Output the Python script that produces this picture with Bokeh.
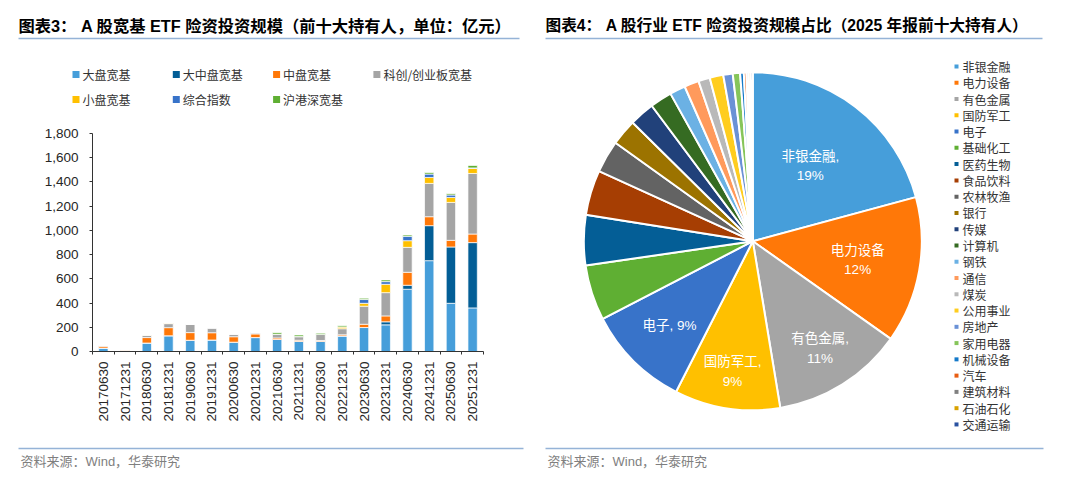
import math
import numpy as np
from bokeh.plotting import figure
from bokeh.layouts import row, column
from bokeh.models import Range1d, FixedTicker, NumeralTickFormatter, ColumnDataSource
from bokeh.core.properties import value
from bokeh.embed import file_html
from bokeh.resources import INLINE

# ---------------- data: left chart (亿元) ----------------
periods = ["20170630", "20171231", "20180630", "20181231", "20190630", "20191231",
           "20200630", "20201231", "20210630", "20211231", "20220630", "20221231",
           "20230630", "20231231", "20240630", "20241231", "20250630", "20251231"]
series_names = ["大盘宽基", "大中盘宽基", "中盘宽基", "科创/创业板宽基", "小盘宽基", "综合指数", "沪港深宽基"]
large_cap = [28, 10, 70, 130, 93, 95, 77, 115, 100, 83, 83, 128, 198, 220, 514, 750, 398, 360]
large_mid_cap = [0, 0, 0, 0, 0, 0, 0, 0, 0, 0, 0, 0, 0, 25, 33, 289, 465, 539]
mid_cap = [15, 4, 45, 67, 63, 60, 45, 30, 12, 10, 8, 10, 27, 49, 107, 74, 55, 71]
star_chinext = [6, 4, 20, 33, 70, 40, 22, 10, 30, 30, 50, 50, 149, 192, 206, 275, 313, 500]
small_cap = [0, 0, 2, 6, 0, 0, 0, 0, 0, 0, 0, 15, 24, 69, 55, 49, 41, 41]
composite = [0, 0, 0, 0, 0, 0, 0, 0, 0, 0, 0, 0, 31, 22, 36, 28, 20, 5]
sh_hk_sz = [0, 0, 0, 0, 0, 0, 0, 0, 13, 13, 10, 10, 11, 14, 11, 13, 11, 20]
series_colors = ["#469EDA", "#035E96", "#FF7808", "#A5A5A5", "#FFC000", "#3873C9", "#5FAF33"]
y_ticks = [0, 200, 400, 600, 800, 1000, 1200, 1400, 1600, 1800]

# ---------------- data: right chart (share, %) ----------------
sectors = ["非银金融", "电力设备", "有色金属", "国防军工", "电子", "基础化工", "医药生物", "食品饮料",
           "农林牧渔", "银行", "传媒", "计算机", "钢铁", "通信", "煤炭", "公用事业", "房地产",
           "家用电器", "机械设备", "汽车", "建筑材料", "石油石化", "交通运输"]
shares = [20.8, 14.0, 12.6, 10.1, 9.9, 5.3, 4.8, 4.3, 3.1, 2.5, 2.4, 2.1, 1.5, 1.4, 1.1, 1.3,
          0.9, 0.7, 0.35, 0.25, 0.2, 0.2, 0.2]
sector_colors = ["#469EDA", "#FF7808", "#A5A5A5", "#FFC000", "#3873C9", "#5FAF33", "#045E96",
                 "#A63E03", "#636363", "#9C7300", "#21417A", "#356B22", "#6BB1E4", "#FF9A5C",
                 "#B9B9B9", "#FFCD1F", "#6A91D6", "#86C55A", "#1479C9", "#E85D12", "#808080",
                 "#D9A200", "#2A52A0"]
pie_labels = ["非银金融,\n19%", "电力设备\n12%", "有色金属,\n11%", "国防军工,\n9%", "电子, 9%"]

title_left = "图表3：  A 股宽基 ETF 险资投资规模（前十大持有人，单位：亿元）"
title_right = "图表4：  A 股行业 ETF 险资投资规模占比（2025 年报前十大持有人）"
source_note = "资料来源：Wind，华泰研究"

# ---------------- styling ----------------
CJK = "Noto Sans CJK SC"
MIX = "Liberation Sans, Noto Sans CJK SC"
LINE_BLUE = "#95B3D7"
AXIS_COL = "#333333"
TXT = "#262626"
H = 481


def blank(w, h, x0, ytop):
    f = figure(width=w, height=h, x_range=Range1d(x0, x0 + w), y_range=Range1d(H - ytop - h, H - ytop),
               output_backend="svg", toolbar_location=None, tools="",
               x_axis_type=None, y_axis_type=None, min_border=0, frame_align=False)
    f.grid.visible = False
    f.outline_line_color = None
    f.background_fill_color = "white"
    f.border_fill_color = "white"
    return f


def header(f, x0, x1, text, size):
    f.text(x=[x0], y=[H - 25], text=[text], text_font=value(MIX), text_font_size=size,
           text_font_style="bold", text_color="#000000", text_baseline="middle", text_align="left")
    f.segment(x0=[x0], y0=[H - 38], x1=[x1], y1=[H - 38], line_color=LINE_BLUE, line_width=1.5)


def footer(f, x0, x1):
    f.segment(x0=[x0], y0=[H - 448], x1=[x1], y1=[H - 448], line_color=LINE_BLUE, line_width=1.5)
    f.text(x=[x0 + 2], y=[H - 461], text=[source_note], text_font=value(MIX), text_font_size="13px",
           text_color="#7F7F7F", text_baseline="middle", text_align="left")


# ---------------- left column ----------------
top_l = blank(540, 115, 0, 0)
header(top_l, 18, 519, title_left, "16.3px")
leg_x = [72 + 100.3 * (i % 4) for i in range(len(series_names))]
leg_y = [H - (74 + 25 * (i // 4)) for i in range(len(series_names))]
top_l.rect(x=[x + 3.5 for x in leg_x], y=leg_y, width=7, height=7, fill_color=series_colors, line_color=None)
top_l.text(x=[x + 10 for x in leg_x], y=leg_y, text=series_names, text_font=value(CJK),
           text_font_size="12px", text_color="#333333", text_baseline="middle", text_align="left")

bar = figure(width=540, height=320, x_range=Range1d(-0.5, len(periods) - 0.5), y_range=Range1d(0, 1800),
             output_backend="svg", toolbar_location=None, tools="", frame_align=False,
             min_border_left=92, min_border_right=57, min_border_top=18, min_border_bottom=84)
bar.grid.visible = False
bar.outline_line_color = None
src = ColumnDataSource(dict(x=list(range(len(periods))),
                            **{series_names[0]: large_cap, series_names[1]: large_mid_cap,
                               series_names[2]: mid_cap, series_names[3]: star_chinext,
                               series_names[4]: small_cap, series_names[5]: composite,
                               series_names[6]: sh_hk_sz}))
bar.vbar_stack(series_names, x="x", width=0.43, fill_color=series_colors, line_color="white",
               line_width=0.7, source=src)

xa = bar.xaxis[0]
xa.ticker = FixedTicker(ticks=list(range(len(periods))), minor_ticks=[i - 0.5 for i in range(len(periods) + 1)])
xa.major_label_overrides = {i: p for i, p in enumerate(periods)}
xa.major_label_orientation = math.pi / 2
xa.major_tick_line_color = None
xa.major_tick_out = 3
xa.major_tick_in = 0
xa.minor_tick_out = 3
xa.minor_tick_in = 0
xa.minor_tick_line_color = AXIS_COL
xa.axis_line_color = AXIS_COL
xa.major_label_standoff = 7
xa.major_label_text_font = MIX
xa.major_label_text_font_size = "13.5px"
xa.major_label_text_color = TXT

ya = bar.yaxis[0]
ya.ticker = FixedTicker(ticks=y_ticks)
ya.formatter = NumeralTickFormatter(format="0,0")
ya.major_tick_out = 3
ya.major_tick_in = 0
ya.minor_tick_line_color = None
ya.major_tick_line_color = AXIS_COL
ya.axis_line_color = AXIS_COL
ya.major_label_standoff = 11
ya.major_label_text_font = MIX
ya.major_label_text_font_size = "13.5px"
ya.major_label_text_color = TXT

foot_l = blank(540, 46, 0, 435)
footer(foot_l, 18, 523)

# ---------------- right column ----------------
top_r = blank(540, 45, 540, 0)
header(top_r, 545, 1042, title_right, "15.7px")

pie = blank(540, 390, 540, 45)
cx, cy, R = 752.3, H - 240.7, 169
frac = np.array(shares, dtype=float) / float(np.sum(shares))
cum = np.cumsum(frac)
start = math.pi / 2 - 2 * math.pi * (cum - frac)
end = math.pi / 2 - 2 * math.pi * cum
psrc = ColumnDataSource(dict(start=start, end=end, color=sector_colors, name=sectors))
pie.wedge(x=cx, y=cy, radius=R, start_angle="start", end_angle="end", direction="clock",
          fill_color="color", line_color="white", line_width=2, source=psrc)

label_r = [0.56, 0.63, 0.75, 0.78, 0.70]
mid = (start[:5] + end[:5]) / 2
lx = [cx + R * r * math.cos(a) for r, a in zip(label_r, mid)]
ly = [cy + R * r * math.sin(a) for r, a in zip(label_r, mid)]
pie.text(x=lx, y=ly, text=pie_labels, text_font=value(MIX), text_font_size="13.5px",
         text_color="white", text_align="center", text_baseline="middle", text_line_height=1.3)

lgx = 956
lgy = [H - (66 + 16.27 * i) for i in range(len(sectors))]
pie.rect(x=[lgx] * len(sectors), y=lgy, width=4, height=4, fill_color=sector_colors, line_color=None)
pie.text(x=[lgx + 6] * len(sectors), y=lgy, text=sectors, text_font=value(CJK), text_font_size="12px",
         text_color="#333333", text_align="left", text_baseline="middle")

foot_r = blank(540, 46, 540, 435)
footer(foot_r, 545, 1043)

layout = row(column(top_l, bar, foot_l, spacing=0), column(top_r, pie, foot_r, spacing=0), spacing=0)

with open("out.html", "w") as fh:
    fh.write(file_html(layout, INLINE))
